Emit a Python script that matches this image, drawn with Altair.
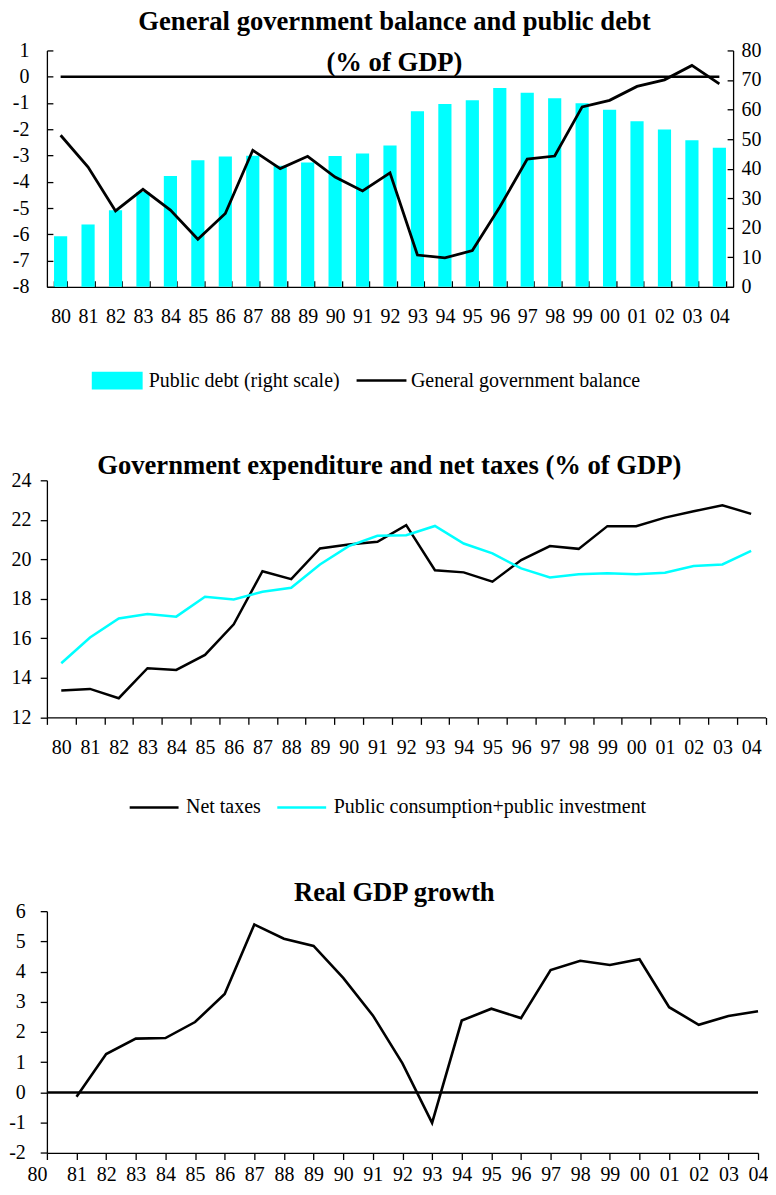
import altair as alt
import pandas as pd

# ---------------- data ----------------
years = ["80", "81", "82", "83", "84", "85", "86", "87", "88", "89", "90", "91", "92",
         "93", "94", "95", "96", "97", "98", "99", "00", "01", "02", "03", "04"]

public_debt = [17.1, 21.1, 25.9, 32.1, 37.5, 42.8, 44.1, 44.4, 41.0, 42.1, 44.3, 45.1, 47.8,
               59.4, 61.9, 63.1, 67.3, 65.7, 63.8, 62.1, 59.9, 56.0, 53.2, 49.6, 47.1]
gov_balance = [-2.23, -3.44, -5.11, -4.29, -5.08, -6.19, -5.21, -2.80, -3.50, -3.03, -3.82, -4.35, -3.66,
               -6.79, -6.90, -6.62, -4.96, -3.14, -3.02, -1.15, -0.90, -0.37, -0.12, 0.43, -0.27]

net_taxes = [13.36, 13.44, 12.97, 14.49, 14.40, 15.16, 16.71, 19.40, 19.00, 20.55, 20.75, 20.89, 21.73,
             19.45, 19.34, 18.87, 19.96, 20.67, 20.53, 21.68, 21.68, 22.11, 22.43, 22.74, 22.30]
public_cons_inv = [14.74, 16.04, 17.01, 17.23, 17.10, 18.11, 17.97, 18.36, 18.56, 19.74, 20.67, 21.19, 21.22,
                   21.69, 20.80, 20.30, 19.54, 19.08, 19.25, 19.29, 19.24, 19.32, 19.66, 19.74, 20.43]

gdp_years = years[1:]
gdp_growth = [-0.14, 1.27, 1.78, 1.80, 2.33, 3.26, 5.56, 5.09, 4.85, 3.79, 2.55, 0.96,
              -1.01, 2.38, 2.77, 2.46, 4.05, 4.36, 4.22, 4.41, 2.82, 2.24, 2.53, 2.69]

title1_lines = ["General government balance and public debt", "(% of GDP)"]
title2 = "Government expenditure and net taxes (% of GDP)"
title3 = "Real GDP growth"
debt_label = "Public debt (right scale)"
bal_label = "General government balance"
tax_label = "Net taxes"
exp_label = "Public consumption+public investment"

# ---------------- styling ----------------
CYAN = "#00FFFF"
FONT = "Liberation Serif"
W1, H1 = 688, 237
W2, H2 = 720.5, 237.7
W3, H3 = 713, 242.3
HYPHEN_LABELS = "datum.value < 0 ? '-' + abs(datum.value) : '' + datum.value"
PAD = {"left": 0, "top": 0, "right": 0, "bottom": 0}


def ax(**kw):
    base = dict(title=None, labelFont=FONT, labelFontSize=20, labelColor="black",
                domainColor="black", domainWidth=1.3, tickColor="black", tickWidth=1.3,
                grid=False, labelAngle=0, labelOverlap=False)
    base.update(kw)
    return alt.Axis(**base)


leg_common = dict(title=None, orient="none", labelFont=FONT, labelFontSize=20,
                  labelColor="black", labelLimit=700, padding=0)


def title_text(text, x, y):
    return alt.Chart(pd.DataFrame({"t": [text]})).mark_text(
        font=FONT, fontSize=26.7, fontWeight="bold", color="black",
        align="center", baseline="alphabetic"
    ).encode(x=alt.value(x), y=alt.value(y), text="t:N")


# ---------------- chart 1 ----------------
df1 = pd.DataFrame({"year": years, "debt": public_debt, "balance": gov_balance,
                    "s1": debt_label, "s2": bal_label})

x1 = alt.X("year:N", sort=years,
           scale=alt.Scale(type="band", domain=years, paddingInner=0.52, paddingOuter=0.26),
           axis=ax(tickBand="extent", tickSize={"expr": "-6"}, labelPadding=26))

yleft_kw = dict(scale=alt.Scale(domain=[-8, 1], nice=False, zero=False),
                axis=ax(orient="left", values=list(range(-8, 2)), labelExpr=HYPHEN_LABELS,
                        tickSize={"expr": "-6"}, labelPadding=24))

bars = alt.Chart(df1).mark_bar(color=CYAN).encode(
    x=x1,
    y=alt.Y("debt:Q", scale=alt.Scale(domain=[0, 80], nice=False),
            axis=ax(orient="right", values=list(range(0, 81, 10)),
                    tickSize={"expr": "-6"}, labelPadding=14)),
    fill=alt.Fill("s1:N", scale=alt.Scale(domain=[debt_label], range=[CYAN]),
                  legend=alt.Legend(legendX=45, legendY=305.5,
                                    symbolType="M-1,-0.35H1V0.35H-1Z", symbolSize=2601,
                                    symbolStrokeWidth=0, labelOffset=6, **leg_common)),
)

zero1 = alt.Chart(df1).mark_line(color="black", strokeWidth=2.5).encode(
    x=x1, y=alt.YDatum(0, **yleft_kw))

bal = alt.Chart(df1).mark_line(strokeWidth=2.8).encode(
    x=x1,
    y=alt.Y("balance:Q", **yleft_kw),
    stroke=alt.Stroke("s2:N", scale=alt.Scale(domain=[bal_label], range=["black"]),
                      legend=alt.Legend(legendX=309, legendY=304.5, symbolType="stroke",
                                        symbolSize=2500, symbolStrokeWidth=2.5,
                                        labelOffset=3, **leg_common)),
)

top = alt.layer(
    bars,
    alt.layer(zero1, bal),
    title_text(title1_lines[0], 348.5, -20),
    title_text(title1_lines[1], 348.5, 20.3),
).resolve_scale(y="independent").properties(width=W1, height=H1)

# ---------------- chart 2 ----------------
df2 = pd.DataFrame({
    "year": years + years,
    "value": net_taxes + public_cons_inv,
    "series": [tax_label] * len(years) + [exp_label] * len(years),
})

mid_lines = alt.Chart(df2).mark_line(strokeWidth=2.5).encode(
    x=alt.X("year:N", sort=years,
            scale=alt.Scale(type="band", domain=years, paddingInner=0, paddingOuter=0),
            axis=ax(tickBand="extent", tickSize=7, labelPadding=13)),
    y=alt.Y("value:Q", scale=alt.Scale(domain=[12, 24], nice=False, zero=False),
            axis=ax(values=list(range(12, 25, 2)), tickSize=6.7, labelPadding=9.3)),
    stroke=alt.Stroke("series:N", sort=[tax_label, exp_label],
                      scale=alt.Scale(domain=[tax_label, exp_label], range=["black", CYAN]),
                      legend=alt.Legend(direction="horizontal", legendX=81.5, legendY=302,
                                        symbolType="stroke", symbolSize=2401,
                                        symbolStrokeWidth=2.5, labelOffset=6,
                                        columnPadding=11, **leg_common)),
)

mid = alt.layer(mid_lines, title_text(title2, 343.3, -6.0)).properties(width=W2, height=H2)

# ---------------- chart 3 ----------------
df3 = pd.DataFrame({"year": gdp_years, "growth": gdp_growth})

x3 = alt.X("year:N", sort=years,
           scale=alt.Scale(type="point", domain=years, padding=0),
           axis=ax(tickSize=6.7, labelPadding=5,
                   labelAlign={"condition": {"test": "datum.value === '80'", "value": "right"},
                               "value": "center"}))
y3_kw = dict(scale=alt.Scale(domain=[-2, 6], nice=False, zero=False),
             axis=ax(values=list(range(-2, 7)), labelExpr=HYPHEN_LABELS,
                     tickSize=6.7, labelPadding=15))

g_zero = alt.Chart(pd.DataFrame({"z": [0]})).mark_rule(color="black", strokeWidth=2.5).encode(
    y=alt.YDatum(0, **y3_kw))
g_line = alt.Chart(df3).mark_line(color="black", strokeWidth=2.6).encode(
    x=x3, y=alt.Y("growth:Q", **y3_kw))

bot = alt.layer(g_zero, g_line, title_text(title3, 348.3, -10.2)).properties(width=W3, height=H3)

# ---------------- assemble ----------------
chart = alt.vconcat(top, mid, bot, spacing=194, bounds="flush").resolve_scale(
    stroke="independent", fill="independent"
).resolve_legend(
    stroke="independent", fill="independent"
).properties(
    padding=PAD, autosize=alt.AutoSizeParams(type="pad")
).configure(font=FONT, padding=PAD).configure_view(strokeWidth=0)

chart.save("out.html", embed_options={"renderer": "svg", "actions": False})
